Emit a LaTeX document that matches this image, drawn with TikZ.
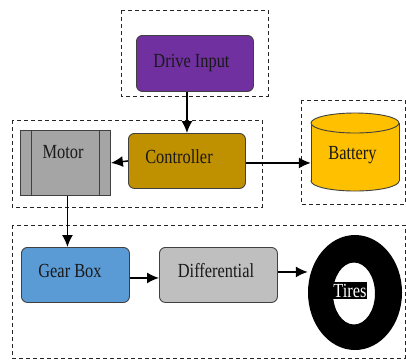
\documentclass[tikz,border=0pt]{standalone}
\usepackage{fontspec}
\setmainfont{Liberation Serif}[FakeStretch=0.82]
\usetikzlibrary{arrows.meta,shapes.geometric}
\definecolor{cpurple}{HTML}{7030A0}
\definecolor{cgold}{HTML}{BF9000}
\definecolor{cgrey}{HTML}{A5A5A5}
\definecolor{cyell}{HTML}{FFC000}
\definecolor{cblue}{HTML}{5B9BD5}
\definecolor{clgrey}{HTML}{BFBFBF}
\definecolor{cedge}{HTML}{404040}
\begin{document}
\begin{tikzpicture}[x=1pt,y=-1pt,
  font=\rmfamily\fontsize{20}{23}\selectfont,
  txt/.style={anchor=base,inner sep=0pt,text=black!90},
  grp/.style={draw=black!85,dash pattern=on 4pt off 3pt,line width=0.9pt},
  blk/.style={draw=cedge,line width=0.9pt,rounded corners=6pt,inner sep=0pt,anchor=north west},
  edgeline/.style={draw=cedge,line width=0.9pt},
  arr/.style={-{Latex[length=12pt,width=11pt]},line width=1.5pt}]
\useasboundingbox (0,0) rectangle (406,360);
% dashed groups
\draw[grp] (121,10) rectangle (268,96);
\draw[grp] (12,120) rectangle (262,207);
\draw[grp] (301,100) rectangle (405,204);
\draw[grp] (12,225) rectangle (405,358);
% blocks
\node[blk,fill=cpurple,minimum width=117pt,minimum height=56pt] (drive) at (136,35) {};
\node[txt] at (191.5,67) {Drive Input};
\node[blk,fill=cgold,minimum width=117pt,minimum height=55pt] (ctrl) at (128,133) {};
\node[txt] at (179,163) {Controller};
\node[edgeline,fill=cgrey,inner sep=0pt,anchor=north west,minimum width=90pt,minimum height=65pt] (motor) at (20,130) {};
\draw[edgeline] ([xshift=11pt]motor.north west) -- ([xshift=11pt]motor.south west);
\draw[edgeline] ([xshift=-11pt]motor.north east) -- ([xshift=-11pt]motor.south east);
\node[txt] at (63,158) {Motor};
% battery (cylinder)
\node[minimum width=88pt,minimum height=78pt,inner sep=0pt] (bat) at (355,152) {};
\filldraw[edgeline,fill=cyell] (355,181) ellipse (44pt and 10pt);
\fill[cyell] (311,123) rectangle (399,181);
\draw[edgeline] (311,123) -- (311,181) (399,123) -- (399,181);
\filldraw[edgeline,fill=cyell] (355,123) ellipse (44pt and 10pt);
\node[txt] at (352.5,159) {Battery};
\node[blk,fill=cblue,minimum width=108pt,minimum height=55pt] (gear) at (21,247) {};
\node[txt] at (70,277) {Gear Box};
\node[blk,fill=clgrey,minimum width=118pt,minimum height=55pt] (diff) at (159,247) {};
\node[txt] at (216,277) {Differential};
% tire
\node[ellipse,minimum width=94pt,minimum height=115pt,inner sep=0pt] (tire) at (355,292.5) {};
\fill[black,even odd rule] (355,292.5) ellipse (47pt and 57.5pt) (354,293.5) ellipse (21pt and 31pt);
\node[fill=black,text=white,anchor=base,inner xsep=0.5pt,inner ysep=2pt] at (350,297) {Tires};
% connectors
\draw[arr] (drive.south -| ctrl.north) -- (ctrl.north);
\draw[arr] (ctrl.west) -- (motor.east);
\draw[arr] ([yshift=-2pt]ctrl.east) -- ([yshift=-2pt]ctrl.east -| bat.west);
\draw[arr] ([xshift=2pt]motor.south) -- ([xshift=2pt]motor.south |- gear.north);
\draw[arr] ([yshift=-3pt]gear.east) -- ([yshift=-3pt]diff.west);
\draw[arr] ([yshift=3pt]diff.east) -- ([yshift=3pt]diff.east -| tire.west);
\end{tikzpicture}
\end{document}
